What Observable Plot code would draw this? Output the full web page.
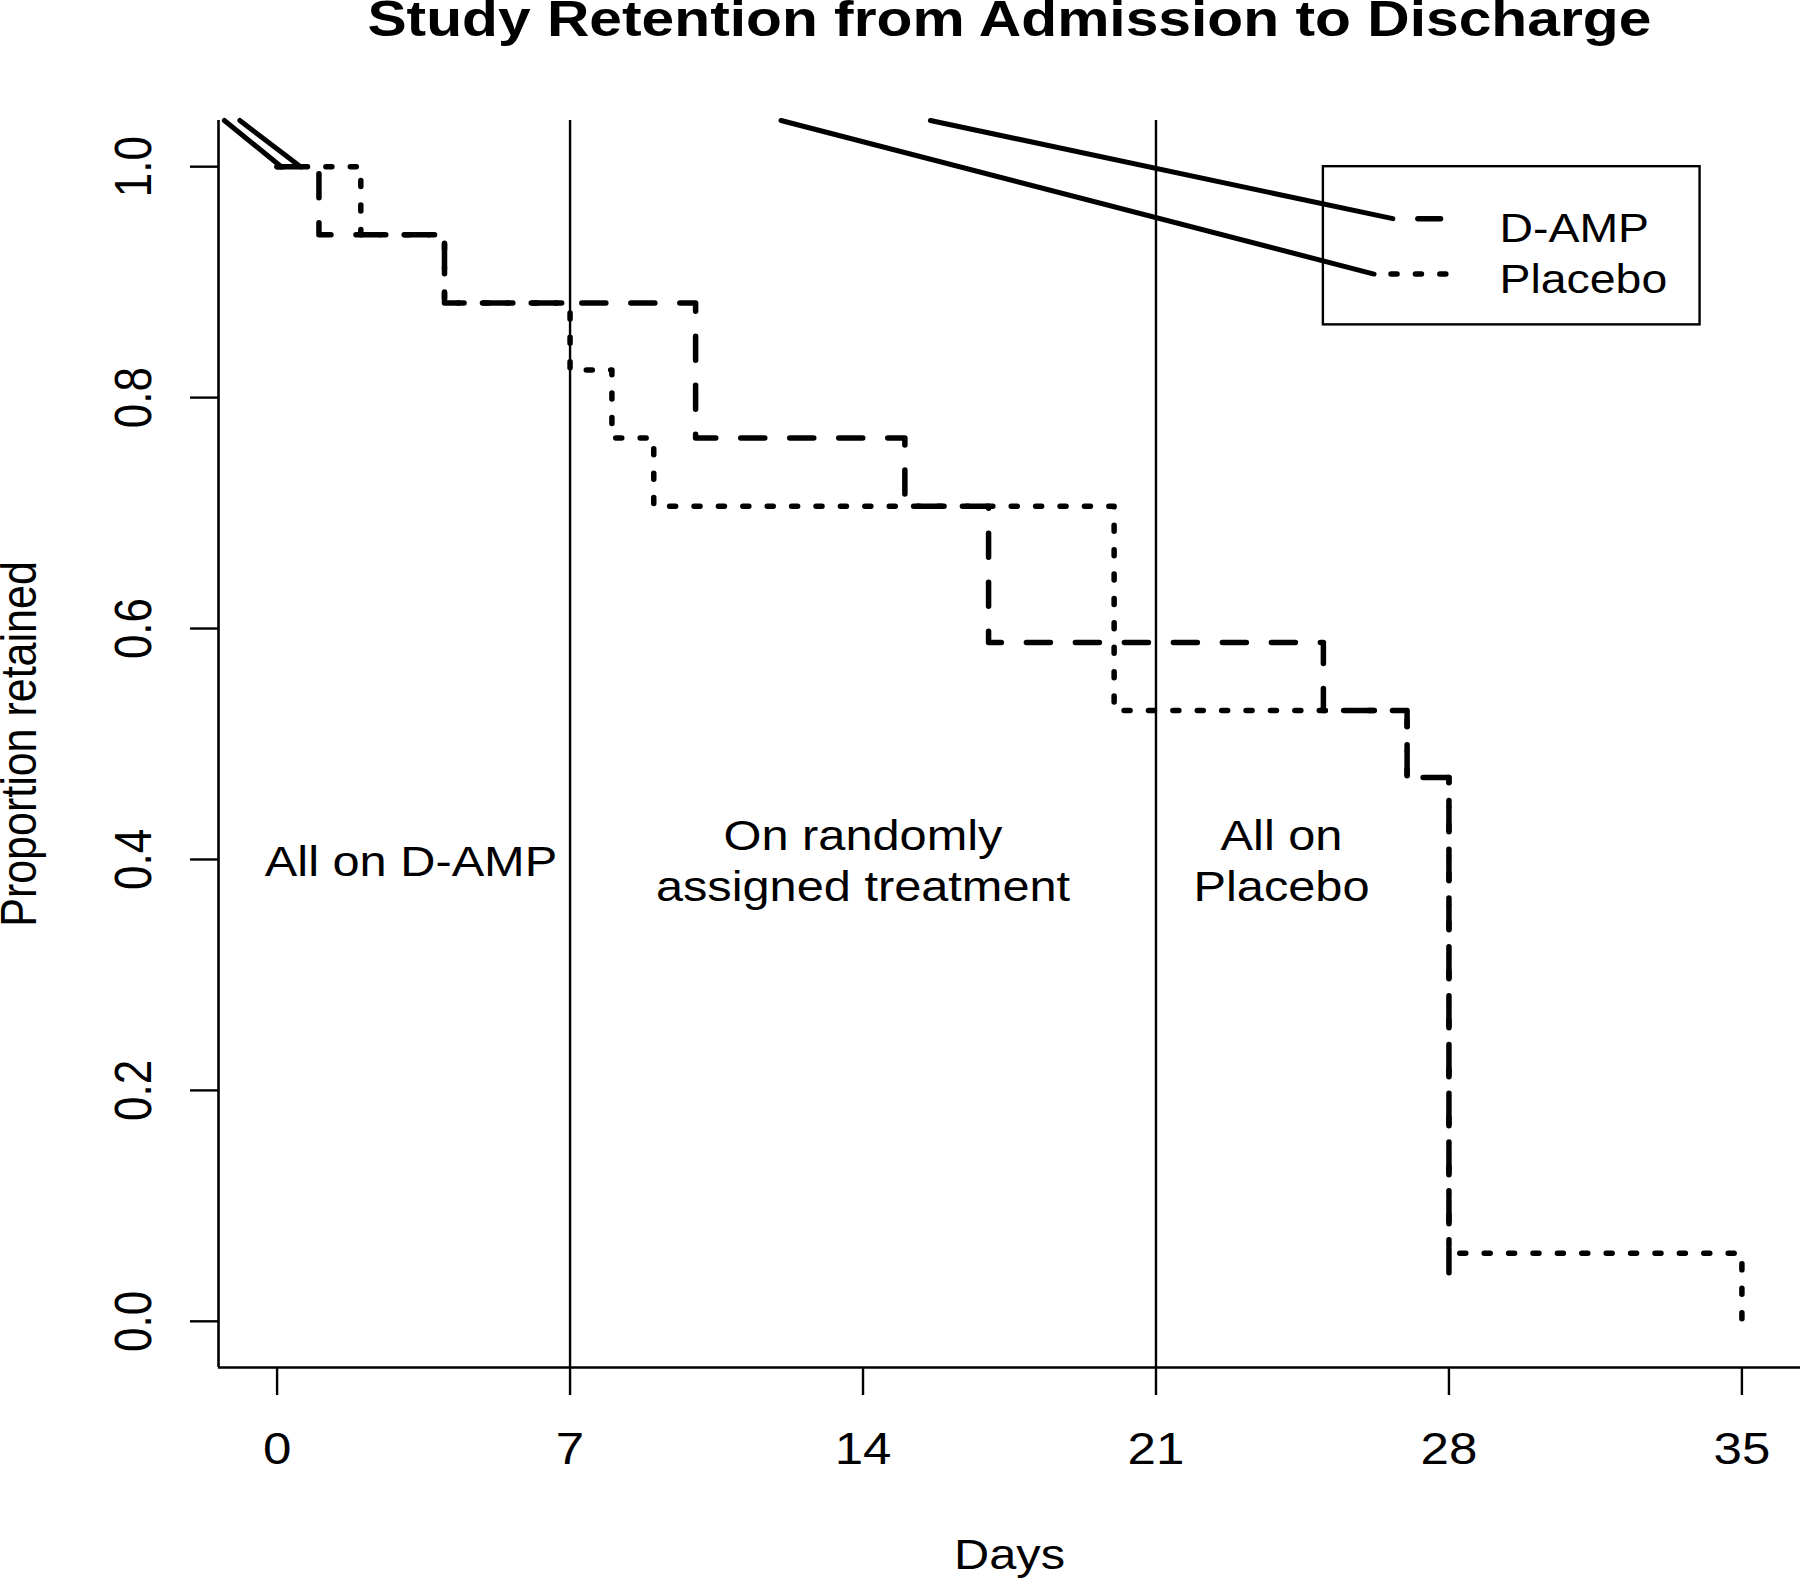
<!DOCTYPE html>
<html>
<head>
<meta charset="utf-8">
<script src="https://cdn.jsdelivr.net/npm/d3@7"></script>
<script src="https://cdn.jsdelivr.net/npm/@observablehq/plot@0.6"></script>
<style>
  html, body { margin: 0; padding: 0; background: #fff; }
  #page { position: relative; width: 1800px; height: 1579px; overflow: hidden; background: #fff; }
  #title { position: absolute; left: 218px; width: 1582px; top: 0px; height: 40px; line-height: 39.4px;
           text-align: center; font-family: "Liberation Sans", Arial, sans-serif; font-weight: bold;
           font-size: 50px; color: #000; white-space: nowrap; }
  #title span { display: inline-block; transform: scaleX(1.175); transform-origin: center; }
  #chart { position: absolute; left: 0; top: 50px; }
</style>
</head>
<body>
<div id="page">
  <div id="title"><span>Study Retention from Admission to Discharge</span></div>
  <div id="chart"></div>
</div>
<script>
// ---------------- data ----------------
const xTicks = [0, 7, 14, 21, 28, 35];
const yTicks = [0.0, 0.2, 0.4, 0.6, 0.8, 1.0];
const phaseBoundaries = [7, 21];

const seriesNames = ["D-AMP", "Placebo"];
const dampDays = [0, 1, 4, 10, 15, 17, 25, 27, 28];
const dampRetained = [1.0, 0.941, 0.882, 0.765, 0.706, 0.588, 0.529, 0.471, 0.03];
const placeboDays = [0, 2, 4, 7, 8, 9, 20, 27, 28, 35];
const placeboRetained = [1.0, 0.941, 0.882, 0.824, 0.765, 0.706, 0.529, 0.471, 0.059, 0.0];

const phaseLabels = ["All on D-AMP", "On randomly\nassigned treatment", "All on\nPlacebo"];
const phaseLabelDays = [3.2, 14, 24];
const phaseLabelLevel = 0.4;

// stray solid strokes present in the original figure (days, proportion)
const strayFromDay = [-1.26, -0.89, 15.61, 12.04];
const strayFromLevel = [1.04, 1.04, 1.04, 1.04];
const strayToDay = [0.1, 0.56, 26.66, 26.21];
const strayToLevel = [1.0, 1.0, 0.955, 0.907];

const xTitle = "Days";
const yTitle = "Proportion retained";

// ---------------- layout (data units, like R's legend(x, y)) ----------------
const layout = {
  xDomain: [-1.4, 36.4], yDomain: [-0.04, 1.04],
  legendBox: {x1: 25, x2: 34, y1: 0.863, y2: 1.0},
  legendSampleX: [[26.66, 27.80], [26.21, 27.94]],
  legendRowY: [0.955, 0.907],
  legendTextX: 29.21,
  legendTextY: [0.935, 0.891]
};
const stretch = 1.16;

// ---------------- tables built from arrays ----------------
const damp = dampDays.map((d, i) => ({day: d, value: dampRetained[i]}));
const placebo = placeboDays.map((d, i) => ({day: d, value: placeboRetained[i]}));
const phases = phaseLabels.map((t, i) => ({x: phaseLabelDays[i], y: phaseLabelLevel, text: t}));
const strays = strayFromDay.map((d, i) => ({x1: d, y1: strayFromLevel[i], x2: strayToDay[i], y2: strayToLevel[i]}));
const legendSamples = seriesNames.map((n, i) => ({name: n, x1: layout.legendSampleX[i][0], x2: layout.legendSampleX[i][1], y: layout.legendRowY[i]}));
const legendTexts = seriesNames.map((n, i) => ({name: n, x: layout.legendTextX, y: layout.legendTextY[i]}));

const dashed = "24,25";
const dotted = "6,18.4";
const lw = 5.5;

const chart = Plot.plot({
  width: 1800,
  height: 1529,
  marginTop: 70,
  marginBottom: 212,
  marginLeft: 218,
  marginRight: 0,
  x: {domain: layout.xDomain},
  y: {domain: layout.yDomain},
  style: {fontFamily: "'Liberation Sans', Arial, sans-serif", fontSize: "44px", color: "#000", background: "#fff", overflow: "visible"},
  marks: [
    // frame (bty = "l")
    Plot.ruleX([layout.xDomain[0]], {stroke: "#000", strokeWidth: 2.6}),
    Plot.ruleY([layout.yDomain[0]], {stroke: "#000", strokeWidth: 2.6}),
    // phase boundaries
    Plot.ruleX(phaseBoundaries, {stroke: "#000", strokeWidth: 2.4}),
    // axes
    Plot.axisX(xTicks, {tickSize: 28, tickPadding: 37, tickFormat: d => String(d), fontSize: 44, strokeWidth: 2.4, label: null}),
    Plot.axisY(yTicks, {tickSize: 28, tickFormat: () => "", strokeWidth: 2.4, label: null}),
    Plot.text(yTicks, {y: d => d, text: d => d3.format(".1f")(d), frameAnchor: "left", dx: -83.5, rotate: -90, textAnchor: "middle", lineAnchor: "middle", fontSize: 44}),
    Plot.text([xTitle], {text: d => d, frameAnchor: "bottom", dy: 201, lineAnchor: "bottom", fontSize: 42}),
    Plot.text([yTitle], {text: d => d, frameAnchor: "left", dx: -183, rotate: -90, textAnchor: "middle", lineAnchor: "bottom", fontSize: 43}),
    // curves
    Plot.line(placebo, {x: "day", y: "value", curve: "step-after", stroke: "#000", strokeWidth: lw, strokeDasharray: dotted, strokeLinecap: "round", strokeLinejoin: "round"}),
    Plot.line(damp, {x: "day", y: "value", curve: "step-after", stroke: "#000", strokeWidth: lw, strokeDasharray: dashed, strokeLinecap: "round", strokeLinejoin: "round"}),
    // stray solid strokes
    Plot.link(strays, {x1: "x1", y1: "y1", x2: "x2", y2: "y2", stroke: "#000", strokeWidth: 5, strokeLinecap: "round"}),
    // phase annotations
    Plot.text(phases, {x: "x", y: "y", text: "text", fontSize: 42, lineHeight: 1.2, lineAnchor: "middle"}),
    // legend
    Plot.rect([layout.legendBox], {x1: "x1", x2: "x2", y1: "y1", y2: "y2", fill: "none", stroke: "#000", strokeWidth: 2.4}),
    Plot.link([legendSamples[0]], {x1: "x1", x2: "x2", y1: "y", y2: "y", stroke: "#000", strokeWidth: lw, strokeDasharray: dashed, strokeDashoffset: 24, strokeLinecap: "round"}),
    Plot.link([legendSamples[1]], {x1: "x1", x2: "x2", y1: "y", y2: "y", stroke: "#000", strokeWidth: lw, strokeDasharray: dotted, strokeDashoffset: 7.4, strokeLinecap: "round"}),
    Plot.text(legendTexts, {x: "x", y: "y", text: "name", textAnchor: "start", lineAnchor: "bottom", fontSize: 40})
  ]
});

// the original raster is stretched horizontally; mimic that on the text
chart.querySelectorAll("text").forEach(t => {
  const tr = t.getAttribute("transform") || "";
  if (!tr) return;
  if (/rotate\(-90\)/.test(tr)) t.setAttribute("transform", tr + ` scale(1,${stretch})`);
  else t.setAttribute("transform", tr + ` scale(${stretch},1)`);
});

document.getElementById("chart").appendChild(chart);
</script>
</body>
</html>
